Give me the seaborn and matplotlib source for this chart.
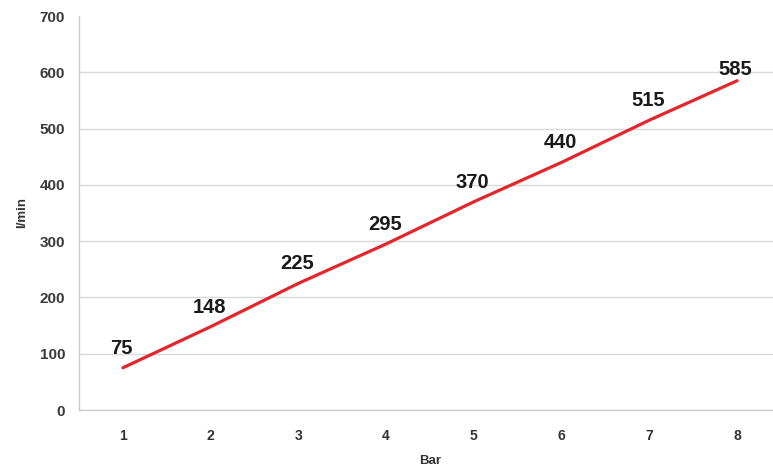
import matplotlib
matplotlib.use('Agg')
import matplotlib.pyplot as plt
import seaborn as sns
import pandas as pd
from matplotlib.ticker import FixedLocator

# chart data
bars = [1, 2, 3, 4, 5, 6, 7, 8]
flow = [75, 148, 225, 295, 370, 440, 515, 585]
y_ticks = [0, 100, 200, 300, 400, 500, 600, 700]

df = pd.DataFrame({'Bar': bars, 'flow': flow})

sns.set_style('white')
plt.rcParams['font.family'] = ['Liberation Sans', 'DejaVu Sans']

fig = plt.figure(figsize=(7.73, 4.74), dpi=100)
ax = fig.add_axes([79 / 773, 64 / 474, 702 / 773, 394 / 474])

sns.lineplot(data=df, x='Bar', y='flow', ax=ax, color='#e3262b', linewidth=2.3)

ax.set_xlim(0.5, 8.5)
ax.set_ylim(0, 700)
ax.set_yticks(y_ticks)
ax.set_xticks(bars)
ax.xaxis.set_minor_locator(FixedLocator([b + 0.5 for b in [0] + bars]))
ax.tick_params(axis='x', which='major', length=0, pad=14, labelsize=10, labelcolor='#333333')
ax.tick_params(axis='x', which='minor', length=3, color='#bbbbbb', width=0.8, direction='out')
ax.tick_params(axis='y', length=4, color='#bbbbbb', width=0.8, pad=6, labelsize=11, labelcolor='#3a3a3a')
for lab in ax.get_xticklabels() + ax.get_yticklabels():
    lab.set_fontweight('bold')

ax.grid(axis='y', color='#d9d9d9', linewidth=1.0)
ax.get_ygridlines()[-1].set_visible(False)
ax.set_axisbelow(True)
for side in ['top', 'right']:
    ax.spines[side].set_visible(False)
for side in ['left', 'bottom']:
    ax.spines[side].set_color('#cccccc')
    ax.spines[side].set_linewidth(1.0)

ax.set_xlabel('Bar', fontsize=9.5, fontweight='bold', color='#333333', labelpad=8)
ax.set_ylabel('l/min', fontsize=9.5, fontweight='bold', color='#333333', labelpad=8)

# data labels above each point
for i, (b, v) in enumerate(zip(bars, flow)):
    off = 8 if i == len(bars) - 1 else 14
    ax.annotate(str(v), (b, v), xytext=(-1, off), textcoords='offset points',
                ha='center', va='center', fontsize=14.5, fontweight='bold', color='#1a1a1a')

fig.savefig('out.png', dpi=100)
